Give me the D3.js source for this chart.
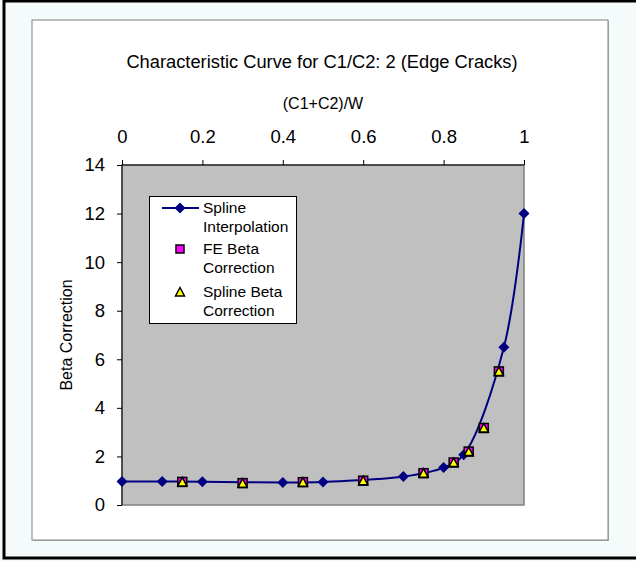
<!DOCTYPE html>
<html>
<head>
<meta charset="utf-8">
<script src="https://cdn.jsdelivr.net/npm/d3@7/dist/d3.min.js"></script>
<style>
  html, body { margin: 0; padding: 0; background: #fff; }
  svg { display: block; font-family: "Liberation Sans", Arial, sans-serif; }
</style>
</head>
<body>
<svg id="chart" width="636" height="561"></svg>
<script>
// ---- Data ----
const title = "Characteristic Curve for C1/C2: 2 (Edge Cracks)";
const xTitle = "(C1+C2)/W";
const yTitle = "Beta Correction";
const xTicks = [0, 0.2, 0.4, 0.6, 0.8, 1];
const xTickLabels = ["0", "0.2", "0.4", "0.6", "0.8", "1"];
const yTicks = [0, 2, 4, 6, 8, 10, 12, 14];
const yTickLabels = ["0", "2", "4", "6", "8", "10", "12", "14"];

const splineX = [0, 0.1, 0.2, 0.4, 0.5, 0.7, 0.8, 0.85, 0.95, 1.0];
const splineY = [0.97, 0.97, 0.96, 0.93, 0.95, 1.17, 1.54, 2.07, 6.5, 12];

const markX = [0.15, 0.3, 0.45, 0.6, 0.75, 0.825, 0.8625, 0.9, 0.9375];
const feY = [0.95, 0.9, 0.94, 1.0, 1.31, 1.75, 2.2, 3.17, 5.5];
const splineBetaY = [0.95, 0.9, 0.94, 1.0, 1.31, 1.75, 2.2, 3.17, 5.5];

const legendLabels = [["Spline", "Interpolation"], ["FE Beta", "Correction"], ["Spline Beta", "Correction"]];

// ---- Drawing ----
const svg = d3.select("#chart");

// outer background and frame
svg.append("rect").attr("x", 0).attr("y", 0).attr("width", 636).attr("height", 561).attr("fill", "#f5fbfb");
svg.append("path").attr("d", "M4,0 V558 H640 M4,1 H640").attr("fill", "none").attr("stroke", "#000").attr("stroke-width", 3);

// inner chart box
svg.append("rect").attr("x", 33).attr("y", 21).attr("width", 576).attr("height", 520).attr("fill", "#b8b8b8");
svg.append("rect").attr("x", 32).attr("y", 20).attr("width", 576).attr("height", 520)
  .attr("fill", "#fff").attr("stroke", "#808080").attr("stroke-width", 1);

const x = d3.scaleLinear().domain([0, 1]).range([122, 524]);
const y = d3.scaleLinear().domain([0, 14]).range([505, 165]);

// plot area
svg.append("rect").attr("x", x(0)).attr("y", y(14)).attr("width", x(1) - x(0)).attr("height", y(0) - y(14))
  .attr("fill", "#c0c0c0").attr("stroke", "#808080").attr("stroke-width", 1.5);

// top x axis
const xAxis = svg.append("g").attr("transform", `translate(0,${y(14)})`)
  .call(d3.axisTop(x).tickValues(xTicks).tickFormat((d, i) => xTickLabels[i]).tickSize(5).tickPadding(17));
xAxis.select(".domain").attr("stroke", "#000").attr("d", `M${x(0)},0H${x(1)}`);
xAxis.selectAll(".tick line").attr("stroke", "#000");
xAxis.selectAll("text").attr("font-size", 18.5).attr("fill", "#000").attr("font-family", "Liberation Sans, Arial, sans-serif");

// left y axis
const yAxis = svg.append("g").attr("transform", `translate(${x(0)},0)`)
  .call(d3.axisLeft(y).tickValues(yTicks).tickFormat((d, i) => yTickLabels[i]).tickSize(5).tickPadding(12));
yAxis.select(".domain").attr("stroke", "#000").attr("d", `M0,${y(0)}V${y(14)}`);
yAxis.selectAll(".tick line").attr("stroke", "#000");
yAxis.selectAll("text").attr("font-size", 18.5).attr("fill", "#000").attr("font-family", "Liberation Sans, Arial, sans-serif");

// titles
svg.append("text").attr("x", 322).attr("y", 68).attr("text-anchor", "middle").attr("font-size", 18.3).text(title);
svg.append("text").attr("x", 323).attr("y", 109).attr("text-anchor", "middle").attr("font-size", 16).text(xTitle);
svg.append("text").attr("transform", `translate(72,${335}) rotate(-90)`).attr("text-anchor", "middle").attr("font-size", 16).text(yTitle);

// spline line
const splineData = splineX.map((d, i) => [d, splineY[i]]);
const line = d3.line().x(d => x(d[0])).y(d => y(d[1])).curve(d3.curveCatmullRom.alpha(0.5));
svg.append("path").datum(splineData).attr("d", line).attr("fill", "none").attr("stroke", "#000080").attr("stroke-width", 2);

const diamondPath = "M0,-5.5L5.5,0L0,5.5L-5.5,0Z";
svg.append("g").selectAll("path").data(splineData).join("path")
  .attr("transform", d => `translate(${x(d[0])},${y(d[1])})`)
  .attr("d", diamondPath).attr("fill", "#000080");

// FE markers (squares)
const sq = 4.5;
svg.append("g").selectAll("rect").data(markX.map((d, i) => [d, feY[i]])).join("rect")
  .attr("x", d => x(d[0]) - sq).attr("y", d => y(d[1]) - sq).attr("width", 2 * sq).attr("height", 2 * sq)
  .attr("fill", "#ff00ff").attr("stroke", "#000").attr("stroke-width", 1.5);

// spline beta markers (triangles)
const triPath = "M0,-4.5L4.5,4L-4.5,4Z";
svg.append("g").selectAll("path").data(markX.map((d, i) => [d, splineBetaY[i]])).join("path")
  .attr("transform", d => `translate(${x(d[0])},${y(d[1])})`)
  .attr("d", triPath).attr("fill", "#ffff00").attr("stroke", "#000").attr("stroke-width", 1.5);

// legend
const lg = svg.append("g");
lg.append("rect").attr("x", 149.5).attr("y", 196.5).attr("width", 147).attr("height", 127)
  .attr("fill", "#fff").attr("stroke", "#000").attr("stroke-width", 1);
const rowY = [208, 249, 292];
lg.append("line").attr("x1", 162).attr("x2", 199).attr("y1", rowY[0]).attr("y2", rowY[0]).attr("stroke", "#000080").attr("stroke-width", 2);
lg.append("path").attr("transform", `translate(180,${rowY[0]})`).attr("d", diamondPath).attr("fill", "#000080");
lg.append("rect").attr("x", 180 - 4).attr("y", rowY[1] - 4).attr("width", 8).attr("height", 8)
  .attr("fill", "#ff00ff").attr("stroke", "#000").attr("stroke-width", 1.5);
lg.append("path").attr("transform", `translate(180,${rowY[2]})`).attr("d", triPath).attr("fill", "#ffff00").attr("stroke", "#000").attr("stroke-width", 1.5);
legendLabels.forEach((lines, i) => {
  lines.forEach((t, j) => {
    lg.append("text").attr("x", 203).attr("y", rowY[i] + 5 + j * 18.5).attr("font-size", 15.5).text(t);
  });
});
</script>
</body>
</html>
